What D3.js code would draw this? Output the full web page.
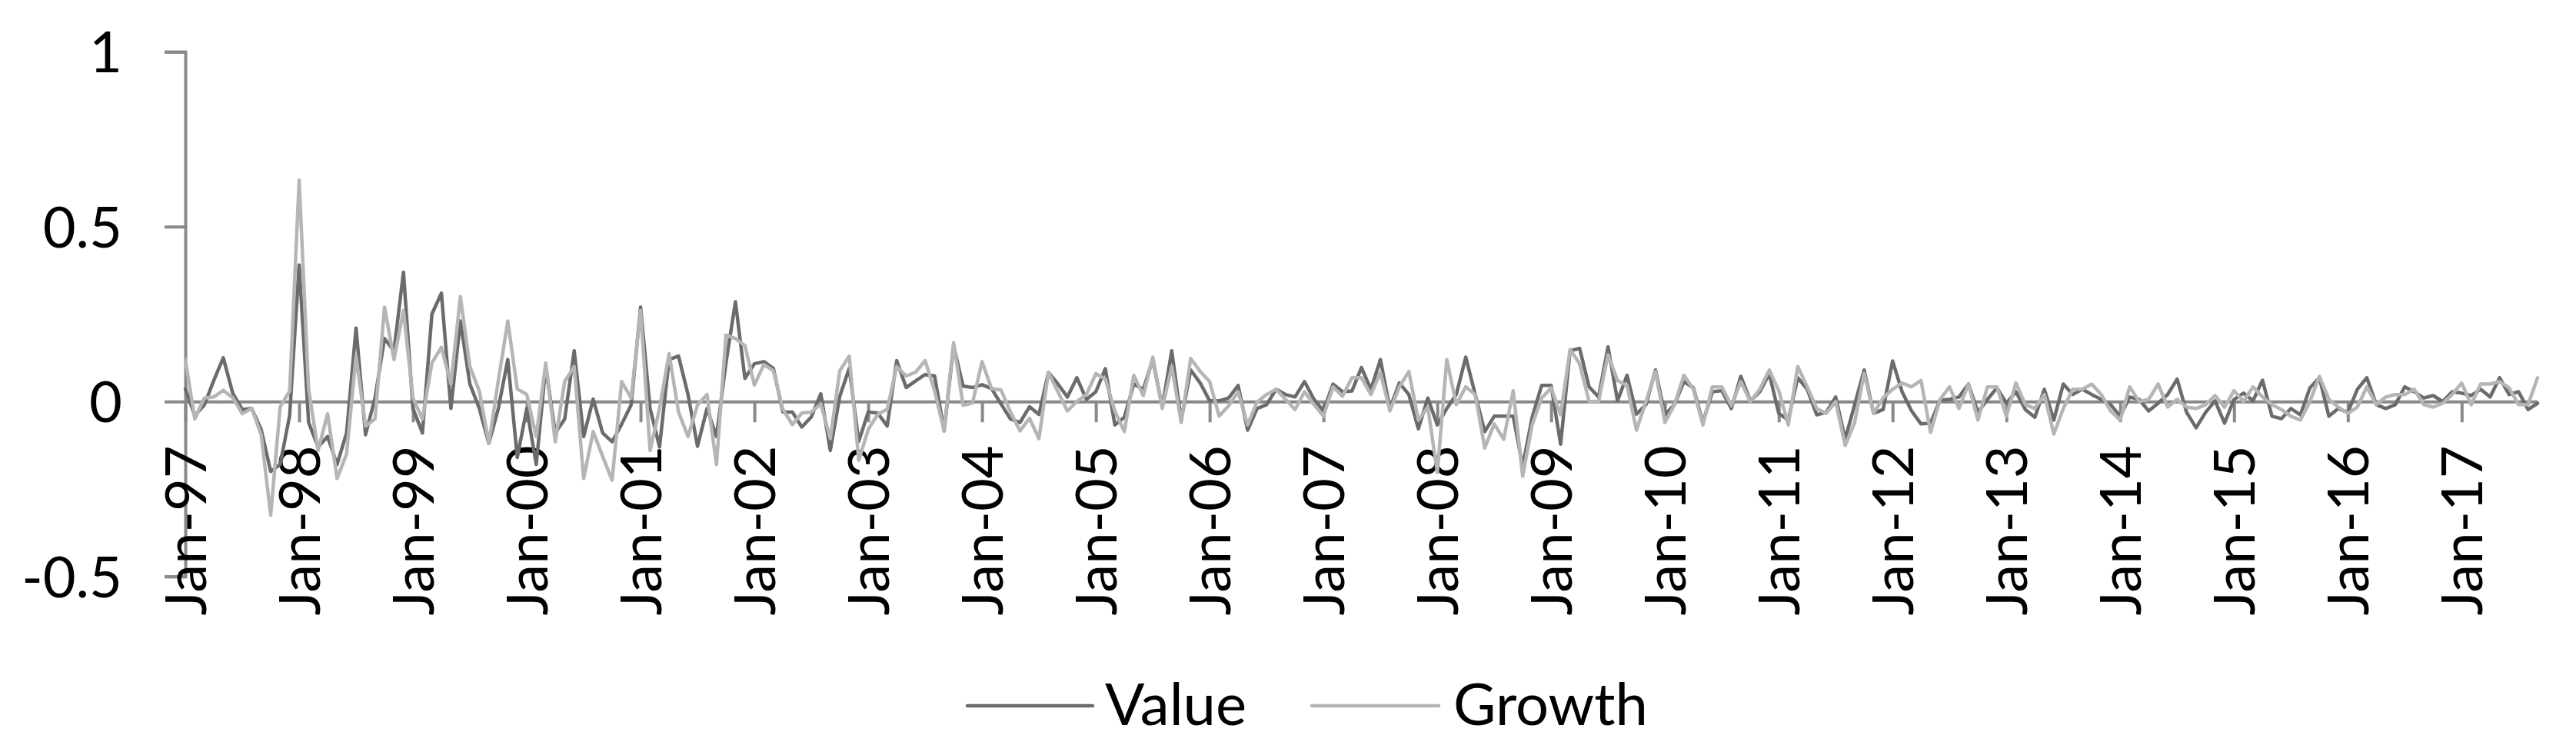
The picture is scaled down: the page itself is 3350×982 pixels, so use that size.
<!DOCTYPE html>
<html>
<head>
<meta charset="utf-8">
<script src="https://cdn.jsdelivr.net/npm/d3@7/dist/d3.min.js"></script>
<style>
  html, body { margin: 0; padding: 0; background: #ffffff; }
  svg { display: block; }
  text { font-family: Lato, "Liberation Sans", Arial, sans-serif; fill: #000; }
</style>
</head>
<body>
<svg id="chart" width="3350" height="982"></svg>
<script>
// Monthly observations, Jan-97 .. Sep-17 (one row per year)
const valueSeries = [
  0.036,-0.04,-0.01,0.06,0.125,0.024,-0.023,-0.02,-0.08,-0.2,-0.18,-0.04,
  0.39,-0.06,-0.13,-0.1,-0.18,-0.09,0.21,-0.095,0.01,0.18,0.145,0.37,
  -0.02,-0.09,0.25,0.31,-0.02,0.23,0.05,-0.02,-0.12,-0.02,0.12,-0.16,
  -0.02,-0.18,0.10,-0.09,-0.05,0.145,-0.10,0.007,-0.09,-0.115,-0.065,-0.01,
  0.27,-0.02,-0.13,0.12,0.13,0.02,-0.128,-0.02,-0.10,0.11,0.285,0.066,
  0.108,0.114,0.095,-0.03,-0.03,-0.073,-0.044,0.022,-0.14,0.015,0.095,-0.114,
  -0.03,-0.033,-0.07,0.117,0.04,0.059,0.077,0.073,-0.084,0.16,0.044,0.04,
  0.048,0.037,-0.007,-0.05,-0.06,-0.015,-0.037,0.083,0.05,0.013,0.068,0.006,
  0.028,0.094,-0.067,-0.045,0.05,0.035,0.12,-0.016,0.145,-0.053,0.09,0.053,
  0.002,0.002,0.01,0.046,-0.082,-0.02,-0.009,0.035,0.02,0.013,0.057,0.006,
  -0.027,0.05,0.028,0.03,0.097,0.035,0.12,-0.02,0.053,0.02,-0.078,0.01,
  -0.067,-0.02,0.02,0.127,0.02,-0.086,-0.042,-0.042,-0.042,-0.185,-0.045,0.046,
  0.046,-0.122,0.145,0.152,0.042,0.013,0.156,0.002,0.075,-0.036,-0.009,0.09,
  -0.038,-0.009,0.057,0.039,-0.06,0.028,0.031,-0.02,0.072,0.002,0.028,0.079,
  -0.034,-0.053,0.068,0.035,-0.038,-0.031,0.013,-0.108,-0.009,0.09,-0.034,-0.023,
  0.116,0.028,-0.027,-0.064,-0.062,0.004,0.006,0.013,0.05,-0.031,0.006,0.039,
  -0.005,0.028,-0.023,-0.045,0.035,-0.053,0.05,0.02,0.035,0.02,0.006,-0.009,
  -0.042,0.013,0.006,-0.027,-0.005,0.02,0.064,-0.031,-0.075,-0.031,0.002,-0.062,
  0.006,0.024,0.002,0.061,-0.042,-0.049,-0.02,-0.038,0.039,0.068,-0.042,-0.02,
  -0.031,0.035,0.068,-0.009,-0.02,-0.009,0.042,0.028,0.01,0.017,0,0.028,
  0.024,0.017,0.035,0.013,0.068,0.02,0.028,-0.023,-0.005
];
const growthSeries = [
  0.12,-0.05,0.01,0.013,0.032,0.011,-0.035,-0.02,-0.095,-0.325,-0.015,0.03,
  0.633,0.035,-0.14,-0.035,-0.22,-0.15,0.13,-0.07,-0.05,0.27,0.12,0.26,
  0.01,-0.05,0.11,0.155,0.05,0.30,0.10,0.03,-0.12,0.06,0.23,0.036,
  0.02,-0.10,0.11,-0.115,0.057,0.10,-0.22,-0.086,-0.157,-0.225,0.057,0.01,
  0.26,-0.14,-0.02,0.137,-0.03,-0.10,-0.01,0.02,-0.18,0.19,0.18,0.16,
  0.047,0.106,0.088,-0.022,-0.066,-0.033,-0.03,-0.007,-0.106,0.088,0.13,-0.168,
  -0.08,-0.037,-0.022,0.10,0.073,0.084,0.117,0.03,-0.084,0.168,-0.011,-0.004,
  0.114,0.037,0.033,-0.03,-0.084,-0.048,-0.106,0.083,0.028,-0.027,0,0.02,
  0.08,0.064,-0.027,-0.086,0.075,0.017,0.127,-0.02,0.10,-0.06,0.123,0.086,
  0.057,-0.042,-0.012,0.028,-0.067,-0.001,0.02,0.035,0.006,-0.023,0.028,-0.009,
  -0.042,0.042,0.015,0.068,0.068,0.02,0.083,-0.027,0.042,0.086,-0.053,-0.016,
  -0.203,0.12,-0.009,0.042,0.02,-0.133,-0.064,-0.108,0.031,-0.214,-0.067,0.01,
  0.039,-0.038,0.149,0.108,0,0,0.134,0.06,0.046,-0.082,0,0.086,
  -0.06,-0.009,0.075,0.035,-0.067,0.042,0.042,-0.012,0.057,0,0.035,0.09,
  0.031,-0.067,0.10,0.042,-0.02,-0.034,0,-0.126,-0.06,0.08,-0.034,0.01,
  0.035,0.053,0.042,0.06,-0.088,0.006,0.042,-0.02,0.05,-0.053,0.042,0.042,
  -0.042,0.053,-0.009,-0.02,0.02,-0.093,-0.02,0.035,0.035,0.05,0.02,-0.027,
  -0.053,0.042,0,0.006,0.05,-0.016,0.006,-0.016,-0.02,-0.009,0.017,-0.016,
  0.031,0,0.042,0.013,-0.009,-0.023,-0.042,-0.053,0,0.072,0.006,-0.016,
  -0.034,-0.016,0.042,-0.009,0.013,0.02,0.02,0.035,-0.009,-0.016,-0.005,0.02,
  0.053,-0.009,0.05,0.05,0.057,0.039,-0.009,-0.009,0.068
];
const tickLabels = ["Jan-97","Jan-98","Jan-99","Jan-00","Jan-01","Jan-02","Jan-03",
  "Jan-04","Jan-05","Jan-06","Jan-07","Jan-08","Jan-09","Jan-10","Jan-11","Jan-12",
  "Jan-13","Jan-14","Jan-15","Jan-16","Jan-17"];
const yTicks = [-0.5, 0, 0.5, 1];
const yTickLabels = ["-0.5", "0", "0.5", "1"];
const seriesNames = ["Value", "Growth"];
const seriesColors = ["#6b6b6b", "#b5b5b5"];

const FONT = "Lato, 'Liberation Sans', Arial, sans-serif";
const svg = d3.select("#chart");
svg.append("rect").attr("width", 3350).attr("height", 982).attr("fill", "#fff");

const n = valueSeries.length;
const x = d3.scaleLinear().domain([0, n - 1]).range([241, 3300]);
const y = d3.scaleLinear().domain([-0.5, 1]).range([749.7, 67.3]);
const axisColor = "#898989";
const FS = 74;

// Y axis
const yAxis = svg.append("g").attr("transform", `translate(${x(0)},0)`)
  .call(d3.axisLeft(y).tickValues(yTicks).tickSize(27).tickPadding(55)
    .tickFormat((d, i) => yTickLabels[i]));
yAxis.select(".domain").attr("stroke", axisColor).attr("stroke-width", 4);
yAxis.selectAll(".tick line").attr("stroke", axisColor).attr("stroke-width", 4);
yAxis.selectAll(".tick text").attr("font-size", FS).attr("fill", "#000")
  .attr("font-family", FONT).attr("dy", "0.36em");

// X axis at zero
const tickIdx = tickLabels.map((_, i) => i * 12);
const xAxis = svg.append("g").attr("transform", `translate(0,${y(0)})`)
  .call(d3.axisBottom(x).tickValues(tickIdx).tickSize(27).tickSizeOuter(0)
    .tickFormat((d, i) => tickLabels[i]));
xAxis.select(".domain").attr("stroke", axisColor).attr("stroke-width", 4);
xAxis.selectAll(".tick line").attr("stroke", axisColor).attr("stroke-width", 4);
xAxis.selectAll(".tick text")
  .attr("font-size", FS).attr("fill", "#000")
  .attr("font-family", FONT)
  .attr("text-anchor", "end")
  .attr("x", 0).attr("y", 0).attr("dy", "0.36em")
  .attr("transform", "translate(0,57) rotate(-90)");

// Lines
const line = d3.line().x((d, i) => x(i)).y(d => y(d)).curve(d3.curveLinear);
[valueSeries, growthSeries].forEach((s, k) => {
  svg.append("path").datum(s).attr("d", line)
    .attr("fill", "none").attr("stroke", seriesColors[k])
    .attr("stroke-width", 4.5).attr("stroke-linejoin", "round").attr("stroke-linecap", "round");
});

// Legend
const legendItems = [
  {x1: 1258, x2: 1421, tx: 1437},
  {x1: 1706, x2: 1871, tx: 1890}
];
legendItems.forEach((it, k) => {
  svg.append("line").attr("x1", it.x1).attr("x2", it.x2).attr("y1", 918).attr("y2", 918)
    .attr("stroke", seriesColors[k]).attr("stroke-width", 4.5).attr("stroke-linecap", "round");
  svg.append("text").attr("x", it.tx).attr("y", 943).attr("font-size", FS + 2)
    .attr("font-family", FONT).text(seriesNames[k]);
});
</script>
</body>
</html>
